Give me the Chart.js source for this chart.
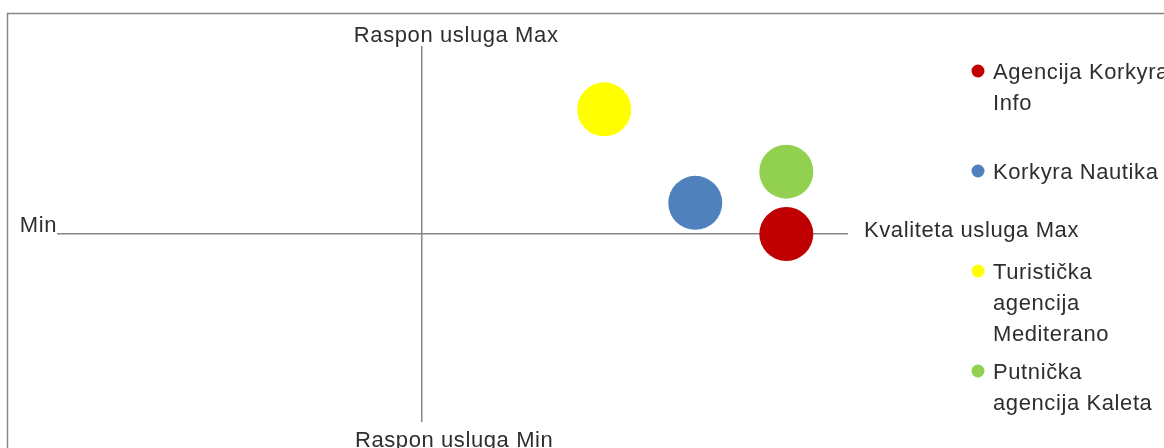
<!DOCTYPE html>
<html>
<head>
<meta charset="utf-8">
<title>Pozicioniranje agencija</title>
<script src="https://cdn.jsdelivr.net/npm/chart.js@4/dist/chart.umd.min.js"></script>
<style>
  html, body { margin: 0; padding: 0; background: #fff; }
  #wrap { width: 1164px; height: 448px; position: relative; }
</style>
</head>
<body>
<div id="wrap"><canvas id="map" width="1164" height="448"></canvas></div>
<script>
// series, in legend order
const agencies = ['Agencija Korkyra Info', 'Korkyra Nautika', 'Turistička agencija Mediterano', 'Putnička agencija Kaleta'];
const legendLines = [['Agencija Korkyra', 'Info'], ['Korkyra Nautika'], ['Turistička', 'agencija', 'Mediterano'], ['Putnička', 'agencija Kaleta']];
const quality = [6, 4.5, 3, 6];       // x: kvaliteta usluga
const range = [0, 1, 4, 2];           // y: raspon usluga
const bubbleSize = [10, 10, 10, 10];
const colors = ['#C00000', '#4F81BD', '#FFFF00', '#92D050'];

// axis end labels
const yMaxLabel = 'Raspon usluga Max';
const yMinLabel = 'Raspon usluga Min';
const xMinLabel = 'Min';
const xMaxLabel = 'Kvaliteta usluga Max';

const FONT = '22px "Liberation Sans", Arial, sans-serif';
const TEXT = '#2e2e2e';
const LINE = '#868686';
const maxSize = Math.max(...bubbleSize);

const datasets = agencies.map((name, i) => ({
    label: name,
    data: [{ x: quality[i], y: range[i], r: 27 * Math.sqrt(bubbleSize[i] / maxSize) }],
    backgroundColor: colors[i],
    borderColor: colors[i],
    borderWidth: 0,
}));

const decor = {
    id: 'decor',
    beforeDraw(chart) {
        const ctx = chart.ctx;
        ctx.save();
        ctx.strokeStyle = LINE;
        ctx.lineWidth = 1.5;
        ctx.beginPath();
        ctx.moveTo(7.5, 460);
        ctx.lineTo(7.5, 13.5);
        ctx.lineTo(1200, 13.5);
        ctx.stroke();
        ctx.restore();
    },
    afterDraw(chart) {
        const ctx = chart.ctx;
        const a = chart.chartArea;
        const xs = chart.scales.x, ys = chart.scales.y;
        const cx = xs.getPixelForValue(0), cy = ys.getPixelForValue(0);
        ctx.save();
        ctx.font = FONT;
        ctx.fillStyle = TEXT;
        ctx.letterSpacing = '0.6px';
        ctx.textBaseline = 'alphabetic';

        ctx.textAlign = 'center';
        ctx.fillText(yMaxLabel, cx + 34, a.top - 5);
        ctx.fillText(yMinLabel, cx + 32, a.bottom + 26);
        ctx.textAlign = 'right';
        ctx.fillText(xMinLabel, a.left - 1, cy - 2);
        ctx.textAlign = 'left';
        ctx.fillText(xMaxLabel, a.right + 17, cy + 3);

        // legend
        legendLines.forEach((lines, i) => {
            const base = 79 + i * 100;
            ctx.fillStyle = colors[i];
            ctx.beginPath();
            ctx.arc(978, base - 8, 6.5, 0, Math.PI * 2);
            ctx.fill();
            ctx.fillStyle = TEXT;
            lines.forEach((t, j) => ctx.fillText(t, 993, base + j * 31));
        });
        ctx.restore();
    }
};

new Chart(document.getElementById('map'), {
    type: 'bubble',
    data: { datasets },
    options: {
        responsive: false,
        animation: false,
        devicePixelRatio: 1,
        layout: { padding: { left: 58, right: 317, top: 47, bottom: 27 } },
        plugins: { legend: { display: false }, tooltip: { enabled: false } },
        events: [],
        scales: {
            x: {
                type: 'linear', min: -6, max: 7,
                position: { y: 0 },
                grid: { display: false, drawTicks: false },
                border: { display: true, color: LINE, width: 1.5 },
                ticks: { display: false },
            },
            y: {
                type: 'linear', min: -6, max: 6,
                position: { x: 0 },
                grid: { display: false, drawTicks: false },
                border: { display: true, color: LINE, width: 1.5 },
                ticks: { display: false },
            },
        },
    },
    plugins: [decor],
});
</script>
</body>
</html>
